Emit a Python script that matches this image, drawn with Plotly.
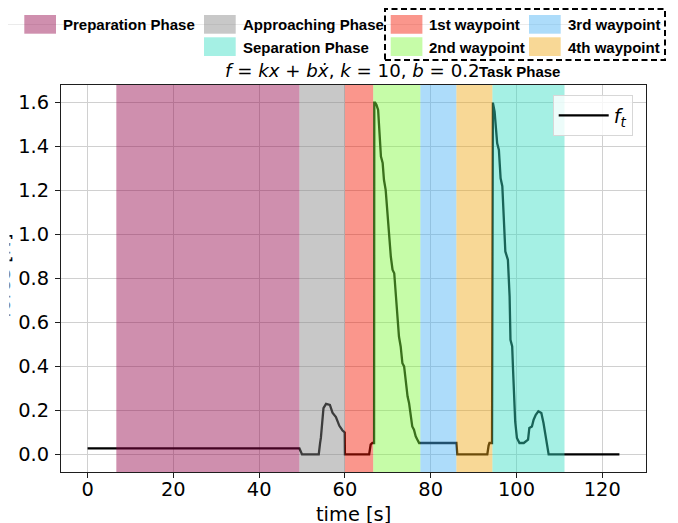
import plotly.graph_objects as go

# ---------------- data ----------------
time_s = [0, 49.4, 50.0, 53.9, 54.2, 54.4, 55.0, 55.6, 56.5, 57.1, 57.9, 58.7, 59.4, 59.95,
          60.0, 65.65, 66.0, 66.4, 66.8, 66.85, 67.05, 67.35, 67.74, 67.98, 68.4, 68.8, 69.1,
          69.5, 69.9, 70.3, 70.7, 71.1, 71.5, 71.9, 72.2, 72.6, 73.0, 73.4, 73.8, 74.2, 74.6,
          74.95, 75.3, 75.7, 76.1, 76.5, 76.9, 77.3, 77.7, 86.0, 86.2, 93.2, 93.5, 93.7, 94.3,
          94.35, 94.5, 94.9, 95.5, 95.9, 96.3, 96.7, 97.0, 97.4, 98.0, 98.4, 98.6, 99.0, 99.2,
          99.4, 99.7, 100.1, 100.7, 101.7, 102.7, 103.0, 103.6, 104.0, 104.5, 105.1, 105.8,
          106.3, 106.7, 107.1, 107.5, 124.0]
force_n = [0.027, 0.027, 0.0, 0.0, 0.05, 0.076, 0.21, 0.23, 0.225, 0.19, 0.17, 0.13, 0.11, 0.10,
           0.0, 0.0, 0.045, 0.052, 0.052, 1.6, 1.6, 1.59, 1.567, 1.49, 1.355, 1.325, 1.249,
           1.203, 1.097, 0.991, 0.9, 0.84, 0.824, 0.718, 0.643, 0.536, 0.491, 0.415, 0.4, 0.325,
           0.264, 0.234, 0.188, 0.127, 0.112, 0.082, 0.067, 0.052, 0.052, 0.052, 0.0, 0.0, 0.04,
           0.052, 0.052, 1.6, 1.6, 1.559, 1.415, 1.385, 1.256, 1.22, 1.067, 0.923, 0.885, 0.718,
           0.521, 0.491, 0.385, 0.249, 0.15, 0.075, 0.052, 0.052, 0.067, 0.12, 0.127, 0.158,
           0.18, 0.196, 0.188, 0.143, 0.097, 0.052, 0.0, 0.0]

phase_names = ["Preparation Phase", "Approaching Phase", "1st waypoint", "2nd waypoint",
               "3rd waypoint", "4th waypoint", "Separation Phase"]
phase_start = [6.7, 49.4, 60.0, 66.6, 77.6, 86.0, 94.4]
phase_end = [49.4, 60.0, 66.6, 77.6, 86.0, 94.4, 111.2]
phase_colors = ["rgb(149,7,75)", "rgb(133,133,133)", "rgb(244,22,0)", "rgb(129,249,62)",
                "rgb(73,178,244)", "rgb(240,169,22)", "rgb(56,222,196)"]

x_ticks = [0, 20, 40, 60, 80, 100, 120]
y_ticks = [0.0, 0.2, 0.4, 0.6, 0.8, 1.0, 1.2, 1.4, 1.6]

title_text = "<i>f</i> = <i>kx</i> + <i>bx\u0307</i>, <i>k</i> = 10, <i>b</i> = 0.2"
task_title = "Task Phase"
x_label = "time [s]"
y_label = "force [N]"
line_label = "<i>f</i><sub><i>t</i></sub>"

# ---------------- layout helpers ----------------
OFF = 8  # page body margin
W, H = 670, 515
L, R, T, B = 53, 32, 77, 51
PW, PH = W - L - R, H - T - B
SPAN_ALPHA = 0.45


def px(xw):
    """window pixel x -> paper x"""
    return (xw - OFF - L) / PW


def py(yw):
    """window pixel y -> paper y"""
    return (H - B - (yw - OFF)) / PH


fig = go.Figure()
fig.add_trace(go.Scatter(x=time_s, y=force_n, mode="lines", name=line_label,
                         line=dict(color="black", width=2.3), showlegend=True))

shapes = []
for s, e, c in zip(phase_start, phase_end, phase_colors):
    shapes.append(dict(type="rect", xref="x", yref="y domain", x0=s, x1=e, y0=0, y1=1,
                       fillcolor=c, opacity=SPAN_ALPHA, line=dict(width=0), layer="above"))

# faint line behind legend
shapes.append(dict(type="line", xref="paper", yref="paper", x0=px(8), x1=px(662),
                   y0=py(24.5), y1=py(24.5), line=dict(color="rgb(235,235,235)", width=1),
                   layer="below"))

annotations = []
font_leg = dict(family="Liberation Sans, Arial, sans-serif", size=15, color="black", weight="bold")

# legend entries: (phase index, swatch left px, row top px)
legend_slots = [(0, 24.3, 15), (1, 204, 15), (6, 204, 37.3),
                (2, 390.7, 15), (3, 390.7, 37.3), (4, 529, 15), (5, 529, 37.3)]
for idx, xl, yt in legend_slots:
    shapes.append(dict(type="rect", xref="paper", yref="paper", x0=px(xl), x1=px(xl + 31.7),
                       y0=py(yt + 18.7), y1=py(yt), fillcolor=phase_colors[idx],
                       opacity=SPAN_ALPHA, line=dict(width=0), layer="above"))
    annotations.append(dict(xref="paper", yref="paper", x=px(xl + 36.5), y=py(yt + 9.8),
                            xanchor="left", yanchor="middle", showarrow=False,
                            text=phase_names[idx], font=font_leg))

# dashed box around task phases
shapes.append(dict(type="rect", xref="paper", yref="paper", x0=px(385), x1=px(665),
                   y0=py(60), y1=py(9), line=dict(color="black", width=2, dash="6px,3.5px"),
                   fillcolor="rgba(0,0,0,0)", layer="above"))

# title
annotations.append(dict(xref="paper", yref="paper", x=px(352), y=py(70.5), xanchor="center",
                        yanchor="middle", showarrow=False, text=title_text,
                        font=dict(family="DejaVu Sans", size=18.2, color="black")))
annotations.append(dict(xref="paper", yref="paper", x=px(477.3), y=py(71.5), xanchor="left",
                        yanchor="middle", showarrow=False, text=task_title, font=font_leg))

# y label, mostly hidden at the left edge
annotations.append(dict(xref="paper", yref="paper", x=px(16.5), y=py(276), xanchor="right",
                        yanchor="middle", showarrow=False, text=y_label, textangle=-90,
                        font=dict(family="DejaVu Sans", size=19.4, color="black")))
annotations.append(dict(xref="paper", yref="paper", x=px(-6), y=py(276), xanchor="left",
                        yanchor="middle", showarrow=False, text=" ", width=14, height=170,
                        bgcolor="white", borderpad=0))

# x label
annotations.append(dict(xref="paper", yref="paper", x=px(353.5), y=py(514), xanchor="center",
                        yanchor="middle", showarrow=False, text=x_label,
                        font=dict(family="DejaVu Sans", size=19.4, color="black")))

axis_common = dict(showline=True, mirror=True, linecolor="rgb(30,30,30)", linewidth=1,
                   ticks="outside", ticklen=5, tickwidth=1, tickcolor="rgb(30,30,30)",
                   showgrid=True, gridcolor="rgb(208,208,208)", gridwidth=1.2, zeroline=False,
                   tickfont=dict(family="DejaVu Sans", size=19.4, color="black"))

fig.update_layout(
    width=W, height=H,
    margin=dict(l=L, r=R, t=T, b=B, autoexpand=False),
    paper_bgcolor="white", plot_bgcolor="white",
    xaxis=dict(range=[-6.2, 130.2], tickvals=x_ticks, ticklabelstandoff=-5, **axis_common),
    yaxis=dict(range=[-0.08, 1.68], tickvals=y_ticks, tickformat=".1f", ticklabelstandoff=2,
               **axis_common),
    shapes=shapes, annotations=annotations,
    legend=dict(x=px(552.7), y=py(95.3), xanchor="left", yanchor="top",
                bgcolor="rgba(255,255,255,0.8)", bordercolor="rgb(215,215,215)", borderwidth=1,
                font=dict(family="DejaVu Sans", size=19.4, color="black"), itemwidth=50),
)

fig.write_html("out.html")
